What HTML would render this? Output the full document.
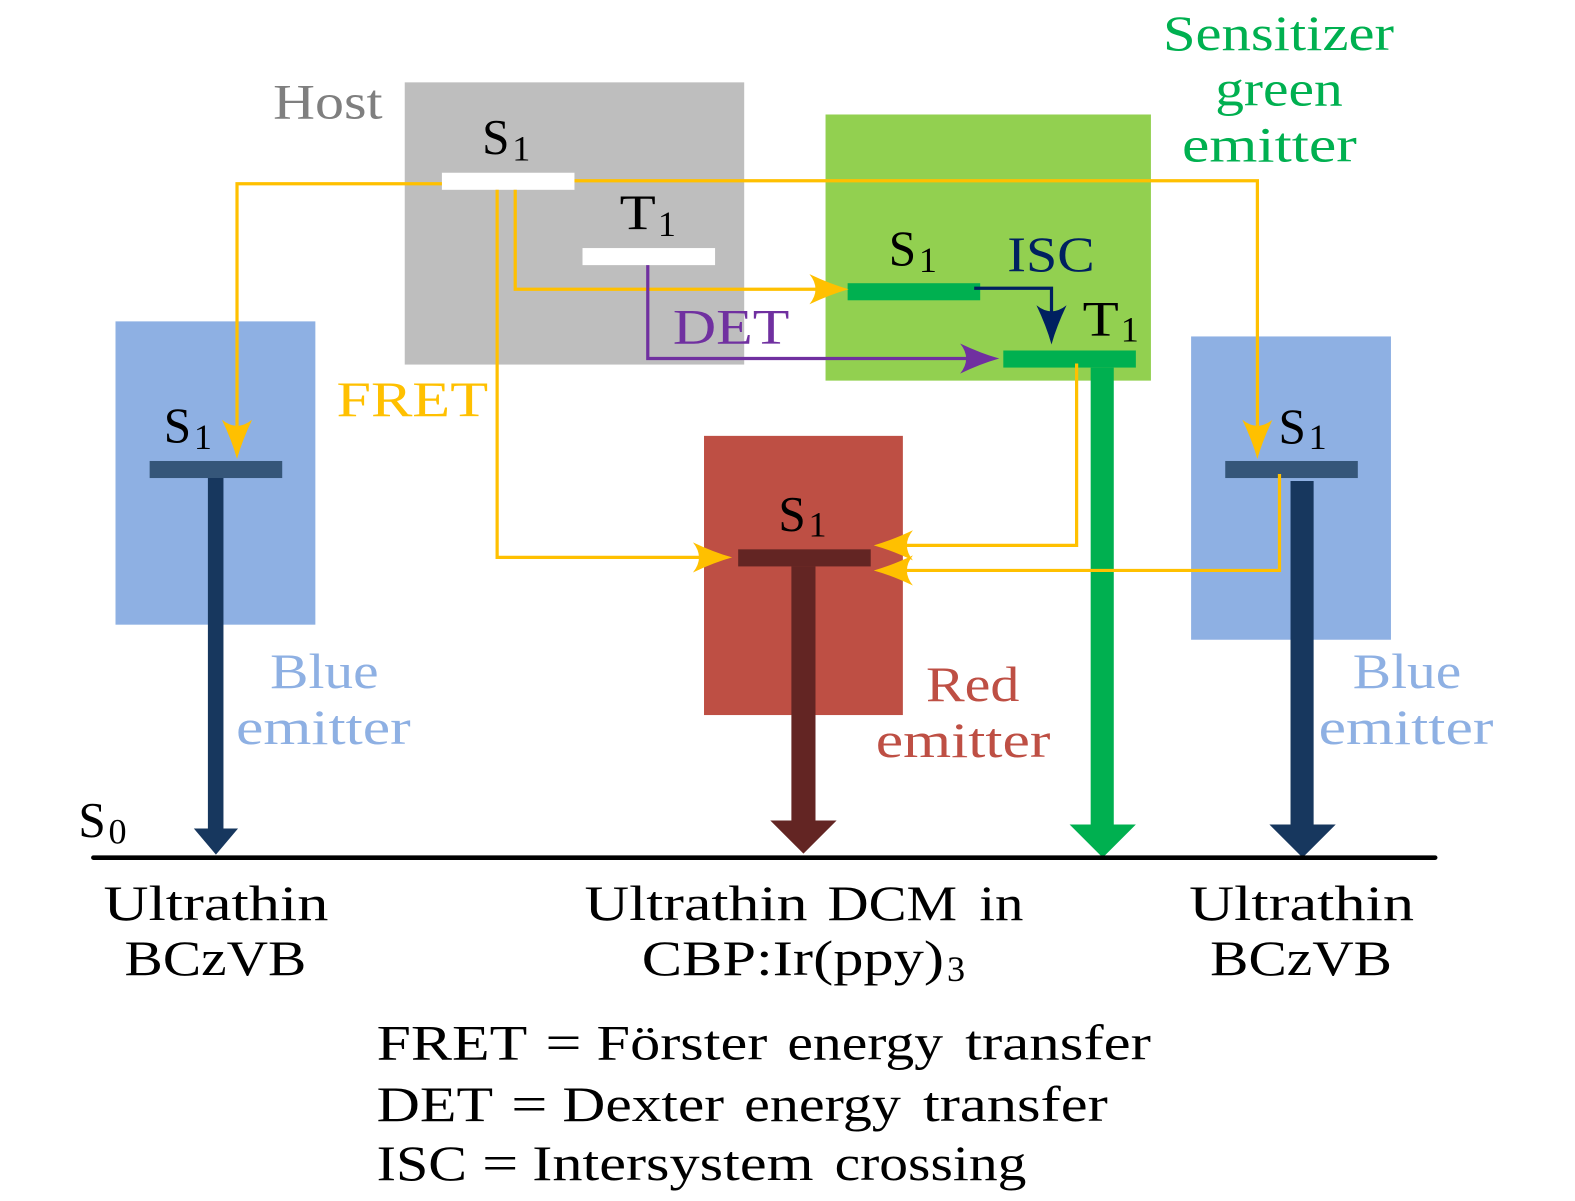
<!DOCTYPE html>
<html><head><meta charset="utf-8"><style>
html,body{margin:0;padding:0;background:#fff}
svg{display:block}
text{font-family:"Liberation Serif",serif;font-size:49px;fill:#000}
.s{font-size:36px}
.g{fill:#00b050}.b{fill:#8eb0e3}.r{fill:#be4f44}
</style></head><body>
<svg width="1575" height="1201" viewBox="0 0 1568.25 1195.86" xmlns="http://www.w3.org/2000/svg">
<defs>
<path id="h" d="M0 0Q-18 -5 -39 -15Q-27 0 -39 15Q-18 5 0 0Z"/>
</defs>
<rect x="403" y="82" width="338" height="281" fill="#bebebe"/>
<rect x="822" y="114" width="324" height="265" fill="#92d050"/>
<rect x="115" y="320" width="199" height="302" fill="#8eb0e3"/>
<rect x="1186" y="335" width="199" height="302" fill="#8eb0e3"/>
<rect x="701" y="434" width="198" height="278" fill="#be4f44"/>

<rect x="440" y="172" width="132" height="17" fill="#fff"/>
<rect x="580" y="247" width="132" height="17" fill="#fff"/>
<rect x="844" y="282" width="132" height="17" fill="#00b050"/>
<rect x="999" y="349" width="132" height="17" fill="#00b050"/>
<rect x="149" y="459" width="132" height="17" fill="#355679"/>
<rect x="1220" y="459" width="132" height="17" fill="#355679"/>
<rect x="735" y="547" width="132" height="17" fill="#632523"/>

<polygon points="207,476 222.5,476 222.5,825 237,825 215,851 193,825 207,825" fill="#17375e"/>
<polygon points="788,564 812,564 812,817 833,817 800,850 767,817 788,817" fill="#632523"/>
<polygon points="1086,366 1109,366 1109,821 1131,821 1098,854 1065,821 1086,821" fill="#00b050"/>
<polygon points="1285,479 1308,479 1308,821 1330,821 1297,854 1264,821 1285,821" fill="#17375e"/>
<line x1="93" y1="854" x2="1429" y2="854" stroke="#000" stroke-width="4.6" stroke-linecap="round"/>

<g fill="none" stroke="#ffc000" stroke-width="3.2">
<path d="M440 183H236V435"/>
<path d="M572 180H1252V435"/>
<path d="M513 189V288H820"/>
<path d="M495 189V555H705"/>
<path d="M1072 362V543H895"/>
<path d="M1274 472V568H895"/>
</g>
<path d="M645 264V357H970" fill="none" stroke="#7030a0" stroke-width="3.2"/>
<path d="M970 287H1047V320" fill="none" stroke="#002060" stroke-width="3.2"/>

<g fill="#ffc000">
<use href="#h" transform="translate(236,457) rotate(90)"/>
<use href="#h" transform="translate(1252,457) rotate(90)"/>
<use href="#h" transform="translate(845,288)"/>
<use href="#h" transform="translate(729,555)"/>
<use href="#h" transform="translate(870,543) rotate(180)"/>
<use href="#h" transform="translate(870,568) rotate(180)"/>
</g>
<use href="#h" fill="#7030a0" transform="translate(995,357)"/>
<use href="#h" fill="#002060" transform="translate(1047,343) rotate(90)"/>

<text x="272" y="118" style="fill:#7f7f7f" textLength="109" lengthAdjust="spacingAndGlyphs">Host</text>
<text x="480" y="153">S</text><text x="510" y="160" class="s">1</text>
<text x="617" y="228" textLength="36" lengthAdjust="spacingAndGlyphs">T</text><text x="655" y="235" class="s">1</text>
<text x="885" y="264">S</text><text x="915" y="271" class="s">1</text>
<text x="1078" y="334" textLength="36" lengthAdjust="spacingAndGlyphs">T</text><text x="1116" y="340" class="s">1</text>
<text x="163" y="440">S</text><text x="193" y="447" class="s">1</text>
<text x="1273" y="441">S</text><text x="1303" y="447" class="s">1</text>
<text x="775" y="528">S</text><text x="805" y="534" class="s">1</text>
<text x="78" y="833">S</text><text x="108" y="840" class="s">0</text>

<text x="1158" y="50" class="g" textLength="230" lengthAdjust="spacingAndGlyphs">Sensitizer</text>
<text x="1210" y="105" class="g" textLength="127" lengthAdjust="spacingAndGlyphs">green</text>
<text x="1177" y="161" class="g" textLength="174" lengthAdjust="spacingAndGlyphs">emitter</text>
<text x="1003" y="270" style="fill:#002060" textLength="87" lengthAdjust="spacingAndGlyphs">ISC</text>
<text x="670" y="342" style="fill:#7030a0" textLength="116" lengthAdjust="spacingAndGlyphs">DET</text>
<text x="335" y="414" style="fill:#ffc000" textLength="151" lengthAdjust="spacingAndGlyphs">FRET</text>

<text x="269" y="685" class="b" textLength="108" lengthAdjust="spacingAndGlyphs">Blue</text>
<text x="235" y="741" class="b" textLength="174" lengthAdjust="spacingAndGlyphs">emitter</text>
<text x="1347" y="685" class="b" textLength="108" lengthAdjust="spacingAndGlyphs">Blue</text>
<text x="1313" y="741" class="b" textLength="174" lengthAdjust="spacingAndGlyphs">emitter</text>
<text x="922" y="698" class="r" textLength="93" lengthAdjust="spacingAndGlyphs">Red</text>
<text x="872" y="754" class="r" textLength="174" lengthAdjust="spacingAndGlyphs">emitter</text>

<text x="103" y="916" textLength="224" lengthAdjust="spacingAndGlyphs">Ultrathin</text>
<text x="124" y="971" textLength="181" lengthAdjust="spacingAndGlyphs">BCzVB</text>
<text x="1184" y="916" textLength="224" lengthAdjust="spacingAndGlyphs">Ultrathin</text>
<text x="1205" y="971" textLength="181" lengthAdjust="spacingAndGlyphs">BCzVB</text>
<text x="582" y="916" textLength="222" lengthAdjust="spacingAndGlyphs">Ultrathin</text>
<text x="824" y="916" textLength="129" lengthAdjust="spacingAndGlyphs">DCM</text>
<text x="975" y="916" textLength="44" lengthAdjust="spacingAndGlyphs">in</text>
<text x="639" y="971" textLength="301" lengthAdjust="spacingAndGlyphs">CBP:Ir(ppy)</text><text x="943" y="977" class="s">3</text>

<text x="375" y="1055" textLength="150" lengthAdjust="spacingAndGlyphs">FRET</text>
<text x="543" y="1055" textLength="36" lengthAdjust="spacingAndGlyphs">=</text>
<text x="594" y="1055" textLength="170" lengthAdjust="spacingAndGlyphs">Förster</text>
<text x="784" y="1055" textLength="155" lengthAdjust="spacingAndGlyphs">energy</text>
<text x="961" y="1055" textLength="185" lengthAdjust="spacingAndGlyphs">transfer</text>

<text x="375" y="1116" textLength="116" lengthAdjust="spacingAndGlyphs">DET</text>
<text x="509" y="1116" textLength="36" lengthAdjust="spacingAndGlyphs">=</text>
<text x="560" y="1116" textLength="161" lengthAdjust="spacingAndGlyphs">Dexter</text>
<text x="741" y="1116" textLength="156" lengthAdjust="spacingAndGlyphs">energy</text>
<text x="919" y="1116" textLength="184" lengthAdjust="spacingAndGlyphs">transfer</text>

<text x="375" y="1175" textLength="90" lengthAdjust="spacingAndGlyphs">ISC</text>
<text x="480" y="1175" textLength="36" lengthAdjust="spacingAndGlyphs">=</text>
<text x="530" y="1175" textLength="280" lengthAdjust="spacingAndGlyphs">Intersystem</text>
<text x="831" y="1175" textLength="191" lengthAdjust="spacingAndGlyphs">crossing</text>
</svg>
</body></html>
